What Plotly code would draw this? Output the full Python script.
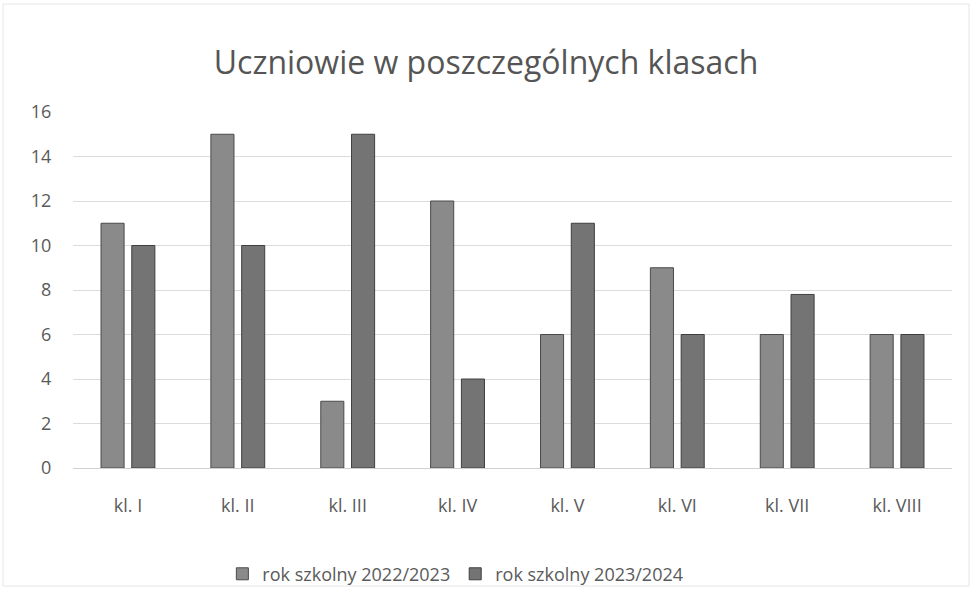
import plotly.graph_objects as go

categories = ["kl. I", "kl. II", "kl. III", "kl. IV", "kl. V", "kl. VI", "kl. VII", "kl. VIII"]
series_2022 = [11, 15, 3, 12, 6, 9, 6, 6]
series_2023 = [10, 10, 15, 4, 11, 6, 7.8, 6]
y_ticks = [0, 2, 4, 6, 8, 10, 12, 14, 16]

FONT = "'Open Sans', Lato, sans-serif"

fig = go.Figure()
fig.add_trace(go.Bar(x=categories, y=series_2022, name="rok szkolny 2022/2023",
                     marker=dict(color="#8a8a8a", line=dict(color="#4a4a4a", width=1))))
fig.add_trace(go.Bar(x=categories, y=series_2023, name="rok szkolny 2023/2024",
                     marker=dict(color="#747474", line=dict(color="#3f3f3f", width=1))))

fig.update_layout(
    width=972, height=589,
    margin=dict(l=73, r=20, t=112, b=121, autoexpand=False),
    paper_bgcolor="white", plot_bgcolor="white",
    barmode="group", bargap=0.44, bargroupgap=0.25,
    title=dict(text="Uczniowie w poszczególnych klasach", x=0.5, xanchor="center",
               y=1 - 63 / 589, yanchor="middle", yref="container",
               font=dict(family=FONT, size=32, color="#555555")),
    font=dict(family=FONT, color="#5a5a5a"),
    showlegend=True,
    legend=dict(orientation="h", x=0.435, xanchor="center", y=-0.298, yanchor="middle",
                bgcolor="rgba(0,0,0,0)",
                font=dict(family=FONT, size=18, color="#5a5a5a"), itemwidth=30),
    xaxis=dict(showgrid=False, showline=True, linecolor="#d0d0d0", linewidth=1,
               ticks="outside", ticklen=21, tickcolor="rgba(0,0,0,0)",
               tickfont=dict(family=FONT, size=18, color="#5a5a5a")),
    yaxis=dict(range=[0, 16], tickvals=y_ticks, showgrid=True, gridcolor="#dcdcdc",
               zeroline=False, showline=False, ticks="outside", ticklen=17,
               tickcolor="rgba(0,0,0,0)",
               tickfont=dict(family=FONT, size=18, color="#5a5a5a")),
    shapes=[dict(type="rect", xref="paper", yref="paper", x0=-70/879, x1=1+17/879,
                 y0=-118/356, y1=1+108/356, line=dict(color="#e6e6e6", width=1))],
)

fig.write_html("out.html", config={"displayModeBar": False},
               post_script="document.body.style.margin='0';document.body.style.overflow='hidden';")
